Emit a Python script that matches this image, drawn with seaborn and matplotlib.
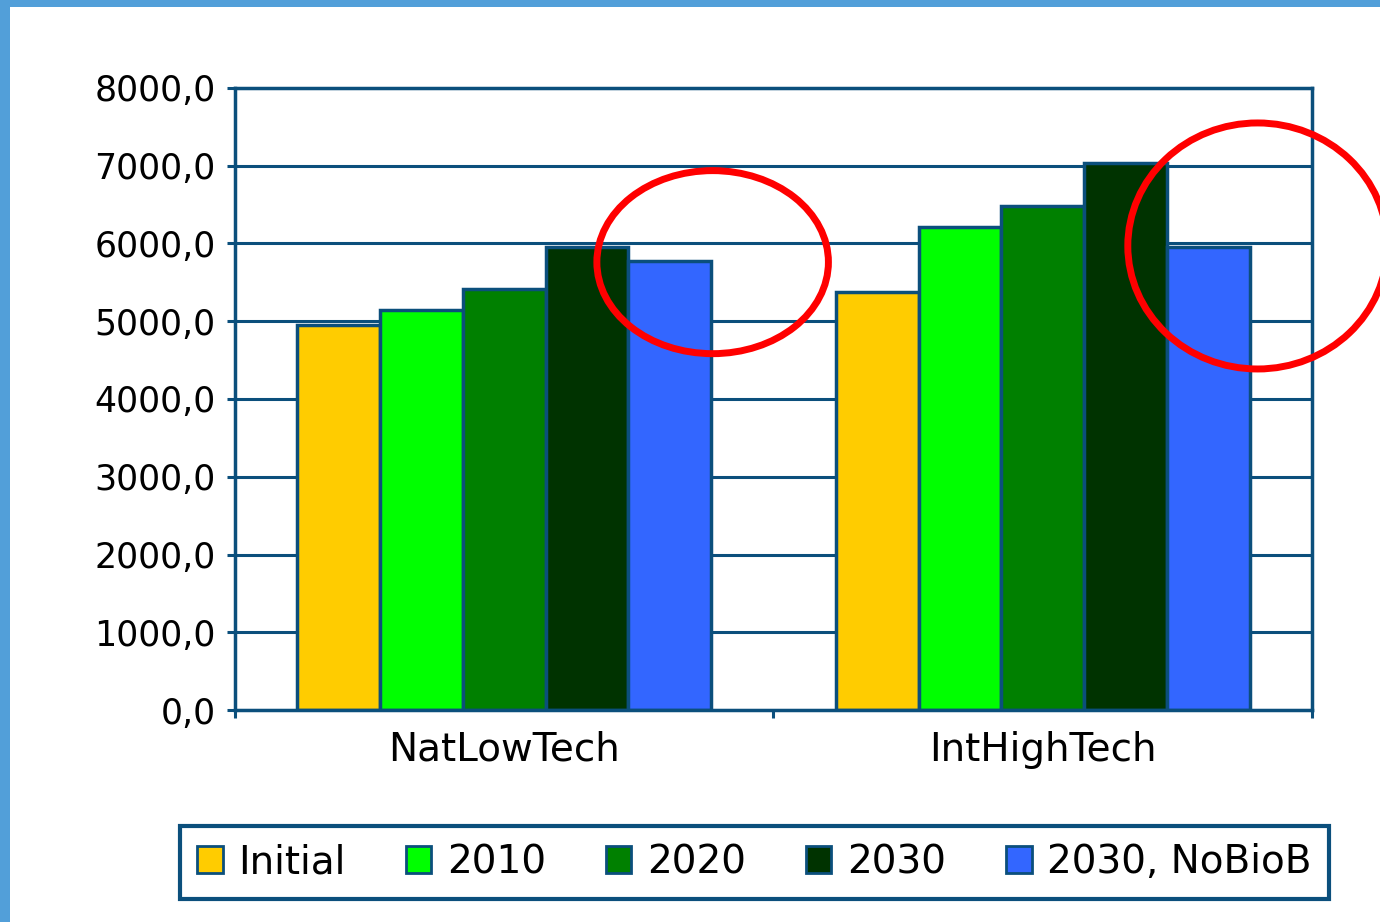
import matplotlib
matplotlib.use("Agg")
import matplotlib.pyplot as plt
import seaborn as sns
import pandas as pd
from matplotlib.patches import Ellipse, Rectangle, Patch
from matplotlib.ticker import FuncFormatter, MultipleLocator

# ---- data ----
scenarios = ["NatLowTech", "IntHighTech"]
series = ["Initial", "2010", "2020", "2030", "2030, NoBioB"]
initial = [4950, 5380]
y2010 = [5150, 6215]
y2020 = [5420, 6485]
y2030 = [5960, 7030]
y2030_nobiob = [5780, 5960]
colors = ["#FFCC00", "#00FF00", "#008000", "#003300", "#3366FF"]

values = [initial, y2010, y2020, y2030, y2030_nobiob]
rows = []
for s, vals in zip(series, values):
    for sc, v in zip(scenarios, vals):
        rows.append({"scenario": sc, "series": s, "value": v})
df = pd.DataFrame(rows)

sns.set_theme(style="white")
plt.rcParams["font.family"] = ["DejaVu Sans"]
plt.rcParams["text.color"] = "black"

EDGE = "#0B4F7C"

fig = plt.figure(figsize=(13.8, 9.22), dpi=100)
ax = fig.add_axes([0.1703, 0.2299, 0.7804, 0.6747])

sns.barplot(data=df, x="scenario", y="value", hue="series", hue_order=series,
            order=scenarios, palette=colors, width=0.768, edgecolor=EDGE,
            linewidth=2.5, saturation=1, ax=ax, legend=False, errorbar=None)

ax.set_xlim(-0.5, 1.5)
ax.set_ylim(0, 8000)
ax.yaxis.set_major_locator(MultipleLocator(1000))
ax.yaxis.set_major_formatter(FuncFormatter(lambda v, p: f"{v:.1f}".replace(".", ",")))
ax.set_axisbelow(True)
ax.grid(axis="y", color=EDGE, linewidth=2.2)
ax.grid(axis="x", visible=False)
ax.set_xlabel("")
ax.set_ylabel("")

for sp in ax.spines.values():
    sp.set_visible(True)
    sp.set_color(EDGE)
    sp.set_linewidth(2.5)

ax.tick_params(axis="y", which="major", left=True, length=6, width=2.2, color=EDGE,
               pad=8, labelsize=25, labelcolor="black")
ax.tick_params(axis="x", which="major", bottom=False, length=0, pad=15,
               labelsize=28, labelcolor="black")
ax.set_xticks([-0.5, 0.5, 1.5], minor=True)
ax.tick_params(axis="x", which="minor", bottom=True, length=6, width=2.2, color=EDGE)

# red annotation ellipses
ax.add_patch(Ellipse((0.387, 5760), 0.430, 2354, fill=False, edgecolor="#FF0000",
                     linewidth=5, clip_on=False, zorder=10))
ax.add_patch(Ellipse((1.399, 5968), 0.482, 3164, fill=False, edgecolor="#FF0000",
                     linewidth=5, clip_on=False, zorder=10))

# legend
handles = [Patch(facecolor=c, edgecolor=EDGE, linewidth=2) for c in colors]
leg = fig.legend(handles, series, loc="center", bbox_to_anchor=(0.5467, 0.065),
                 ncol=5, frameon=True, fancybox=False, fontsize=28, framealpha=1,
                 handlelength=0.65, handleheight=0.7, handletextpad=0.4,
                 columnspacing=1.55, borderpad=0.45, borderaxespad=0)
leg.get_frame().set_edgecolor(EDGE)
leg.get_frame().set_linewidth(3)
for t in leg.get_texts():
    t.set_color("black")

# light blue frame on top and left
fig.patches.append(Rectangle((0, 1 - 7 / 922), 1, 7 / 922, transform=fig.transFigure,
                             facecolor="#529FD9", edgecolor="none", zorder=0))
fig.patches.append(Rectangle((0, 0), 10 / 1380, 1, transform=fig.transFigure,
                             facecolor="#529FD9", edgecolor="none", zorder=0))

fig.savefig("out.png", dpi=100)
